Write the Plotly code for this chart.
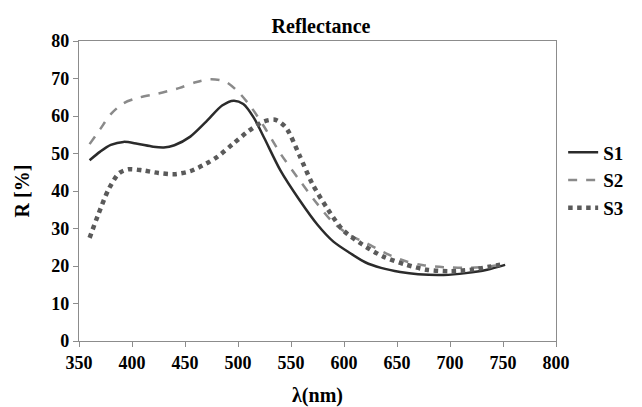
import plotly.graph_objects as go

wl = [360, 370, 380, 392, 405, 420, 430, 440, 455, 470, 485, 496, 505, 515, 525, 540, 558, 575, 590, 606, 620, 635, 653, 670, 694, 715, 735, 752]
s1 = [48.2, 50.5, 52.3, 53.1, 52.6, 51.8, 51.6, 52.2, 54.5, 58.5, 62.8, 64.1, 63.2, 59.5, 54.0, 45.5, 37.6, 31.0, 26.5, 23.4, 21.0, 19.5, 18.4, 17.8, 17.6, 18.1, 19.0, 20.3]

wl2 = [360, 370, 380, 392, 405, 425, 445, 460, 474, 488, 500, 512, 525, 540, 558, 575, 590, 605, 622, 640, 659, 675, 694, 715, 735, 752]
s2 = [52.5, 56.5, 60.5, 63.4, 64.8, 66.0, 67.5, 69.0, 69.8, 69.2, 66.5, 62.5, 57.0, 50.0, 42.9, 36.5, 31.5, 28.3, 26.0, 23.3, 21.2, 20.2, 19.7, 19.5, 19.8, 20.6]

wl3 = [360, 368, 378, 388, 397, 410, 425, 440, 455, 470, 481, 495, 510, 524, 535, 545, 558, 570, 585, 599, 617, 637, 658, 678, 700, 720, 737, 752]
s3 = [27.5, 33.6, 40.5, 44.8, 45.8, 45.5, 44.8, 44.5, 45.3, 47.3, 49.2, 52.5, 56.0, 58.5, 59.0, 57.0, 49.5, 42.0, 35.0, 29.6, 25.8, 22.5, 20.4, 19.0, 18.6, 19.0, 19.8, 20.6]

fam = "Liberation Serif"

fig = go.Figure()
fig.add_trace(go.Scatter(x=wl, y=s1, name="<b>S1</b>", mode="lines",
                         line=dict(color="#2b2b2b", width=2.5, shape="spline", smoothing=0.8)))
fig.add_trace(go.Scatter(x=wl2, y=s2, name="<b>S2</b>", mode="lines",
                         line=dict(color="#8a8a8a", width=2.5, dash="dash", shape="spline", smoothing=0.8)))
fig.add_trace(go.Scatter(x=wl3, y=s3, name="<b>S3</b>", mode="lines",
                         line=dict(color="#5a5a5a", width=4.5, dash="dot", shape="spline", smoothing=0.8)))

axis_common = dict(showline=True, linecolor="#8c8c8c", linewidth=1.2, mirror=True,
                   ticks="outside", ticklen=5, tickcolor="#8c8c8c", showgrid=False, zeroline=False,
                   automargin=False,
                   tickfont=dict(family=fam, size=18, color="black"))

fig.update_layout(
    width=642, height=407,
    margin=dict(l=79, r=86, t=41, b=66),
    paper_bgcolor="white", plot_bgcolor="white",
    font=dict(family=fam),
    title=dict(text="<b>Reflectance</b>", x=0.5, xanchor="center", y=0.935, yanchor="middle",
               font=dict(family=fam, size=20, color="black")),
    xaxis=dict(range=[350, 800], dtick=50, tick0=350, tickprefix="<b>", ticksuffix="</b>",
               title=dict(text="<b>λ(nm)</b>", font=dict(family=fam, size=20, color="black"), standoff=20),
               **axis_common),
    yaxis=dict(range=[0, 80], dtick=10, tickprefix="<b>", ticksuffix="</b>",
               title=dict(text="<b>R [%]</b>", font=dict(family=fam, size=20, color="black"), standoff=16),
               **axis_common),
    legend=dict(x=1.015, xanchor="left", y=0.535, yanchor="middle",
                font=dict(family=fam, size=19, color="black"),
                bgcolor="rgba(0,0,0,0)", tracegroupgap=0),
    showlegend=True,
)

fig.write_html("out.html")
